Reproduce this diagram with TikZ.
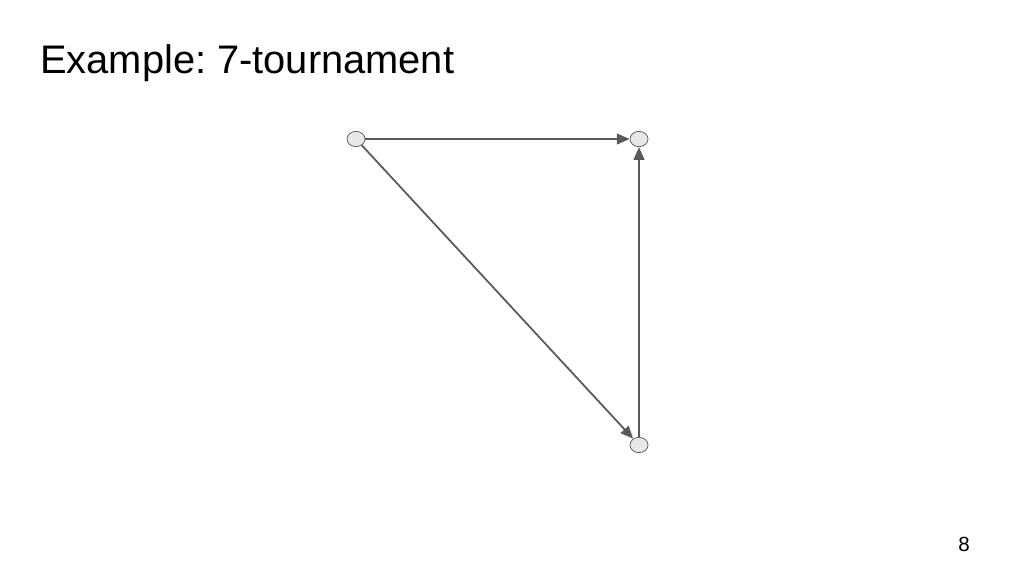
\documentclass[tikz,border=0pt]{standalone}
\usepackage{fontspec}
\setmainfont{Liberation Sans}
\usetikzlibrary{shapes.geometric,arrows.meta}
\definecolor{edgegray}{HTML}{595959}
\definecolor{nodefill}{HTML}{E8E8E8}
\definecolor{nodeline}{HTML}{666666}
\frenchspacing
\begin{document}
\begin{tikzpicture}[x=0.03cm,y=-0.03cm,
  vert/.style={ellipse,draw=nodeline,fill=nodefill,line width=0.7pt,minimum width=0.54cm,minimum height=0.46cm,inner sep=0pt},
  edge/.style={draw=edgegray,line width=1.5pt,-{Triangle[length=0.38cm,width=0.32cm]}},
  title/.style={font=\fontsize{34}{40}\selectfont,anchor=base west,inner sep=0pt},
  pnum/.style={font=\fontsize{17.5}{20}\selectfont,anchor=base,inner sep=0pt}]
\useasboundingbox (0,0) rectangle (1024,576);
\node[title] (t) at (40,73) {Example: 7-tournament};
\node[pnum] (p) at (964,551) {8};
\node[vert] (a) at (356,139) {};
\node[vert] (b) at (639,139) {};
\node[vert] (c) at (639,445) {};
\draw[edge] (a) -- (b);
\draw[edge] (a) -- (c);
\draw[edge] (c) -- (b);
\end{tikzpicture}
\end{document}
